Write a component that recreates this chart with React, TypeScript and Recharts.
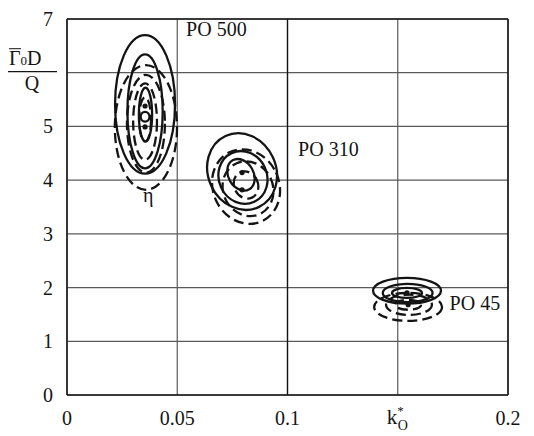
import { ScatterChart, Scatter, XAxis, YAxis, CartesianGrid, ReferenceLine } from "recharts";

// axes
const xTicks = [0, 0.05, 0.1, 0.15, 0.2];
const xTickLabels = ["0", "0.05", "0.1", "", "0.2"];
const yTicks = [0, 1, 2, 3, 4, 5, 6, 7];
const yTickLabels = ["0", "1", "2", "3", "4", "5", "", "7"];

// contours: centre (x, y), half-widths (rx, ry) in data units, tilt in degrees
const solidContours = [
  // PO 500
  { x: 0.0354, y: 5.41, rx: 0.0136, ry: 1.29, rot: 0 },
  { x: 0.0354, y: 5.28, rx: 0.008, ry: 1.06, rot: 0 },
  { x: 0.0356, y: 5.22, rx: 0.003, ry: 0.5, rot: 0 },
  { x: 0.0354, y: 5.18, rx: 0.002, ry: 0.09, rot: 0 },
  // PO 310
  { x: 0.0794, y: 4.16, rx: 0.0154, ry: 0.73, rot: -25 },
  { x: 0.0798, y: 4.05, rx: 0.0109, ry: 0.5, rot: -25 },
  { x: 0.0789, y: 4.1, rx: 0.0057, ry: 0.31, rot: -30 },
  // PO 45
  { x: 0.1542, y: 1.94, rx: 0.0154, ry: 0.24, rot: 0 },
  { x: 0.1545, y: 1.9, rx: 0.0113, ry: 0.17, rot: 0 },
  { x: 0.1542, y: 1.9, rx: 0.0068, ry: 0.093, rot: 0 },
];

const dashedContours = [
  // PO 500
  { x: 0.0358, y: 4.98, rx: 0.0141, ry: 1.16, rot: 0 },
  { x: 0.0358, y: 5.05, rx: 0.0086, ry: 0.91, rot: 0 },
  { x: 0.0354, y: 5.09, rx: 0.0054, ry: 0.71, rot: 0 },
  { x: 0.0354, y: 5.13, rx: 0.0027, ry: 0.41, rot: 0 },
  // PO 310
  { x: 0.0812, y: 3.88, rx: 0.015, ry: 0.71, rot: -25 },
  { x: 0.0821, y: 3.84, rx: 0.0113, ry: 0.52, rot: -25 },
  { x: 0.0812, y: 3.91, rx: 0.0054, ry: 0.26, rot: -25 },
  // PO 45
  { x: 0.1547, y: 1.64, rx: 0.0154, ry: 0.26, rot: 0 },
  { x: 0.1551, y: 1.68, rx: 0.0104, ry: 0.19, rot: 0 },
  { x: 0.1547, y: 1.68, rx: 0.0059, ry: 0.093, rot: 0 },
];

const centres = [
  { x: 0.0354, y: 5.38 },
  { x: 0.0354, y: 4.99 },
  { x: 0.0794, y: 4.14 },
  { x: 0.0794, y: 3.82 },
  { x: 0.1542, y: 1.9 },
  { x: 0.1547, y: 1.68 },
];

const labels = [
  { x: 0.054, y: 6.68, text: "PO 500" },
  { x: 0.1048, y: 4.45, text: "PO 310" },
  { x: 0.1735, y: 1.58, text: "PO 45" },
  { x: 0.0345, y: 3.6, text: "η" },
];

const W = 534;
const H = 436;
const MARGIN = { top: 19, right: 26, bottom: 0, left: 0 };
const Y_AXIS_W = 67;
const X_AXIS_H = 41;
const X_MAX = 0.2;
const Y_MAX = 7;
const pxPerX = (W - MARGIN.left - MARGIN.right - Y_AXIS_W) / X_MAX;
const pxPerY = (H - MARGIN.top - MARGIN.bottom - X_AXIS_H) / Y_MAX;

const FONT = "'Liberation Serif', 'Times New Roman', 'DejaVu Serif', serif";
const INK = "#141414";
const txt = { fontFamily: FONT, fill: INK };

function contourShape(dashed: boolean) {
  return (props: any) => {
    const { cx, cy, payload } = props;
    return (
      <ellipse
        cx={cx}
        cy={cy}
        rx={payload.rx * pxPerX}
        ry={payload.ry * pxPerY}
        transform={`rotate(${payload.rot} ${cx} ${cy})`}
        fill="none"
        stroke={INK}
        strokeWidth={2.3}
        strokeDasharray={dashed ? "10 5" : undefined}
      />
    );
  };
}

function XTick(props: any) {
  const { x, y, payload, index } = props;
  if (payload.value === 0.15) {
    return (
      <text x={x - 11} y={y + 21} style={{ ...txt, fontSize: 21 }}>
        k
        <tspan style={{ fontSize: 13 }} dy={-9}>*</tspan>
        <tspan style={{ fontSize: 14 }} dx={-6} dy={15}>O</tspan>
      </text>
    );
  }
  return (
    <text x={x} y={y + 22} textAnchor="middle" style={{ ...txt, fontSize: 20 }}>
      {xTickLabels[index]}
    </text>
  );
}

function YTick(props: any) {
  const { x, y, payload, index } = props;
  if (payload.value === 6) {
    return (
      <g>
        <text x={x - 50} y={y - 8} style={{ ...txt, fontSize: 20 }}>
          Γ<tspan style={{ fontSize: 13 }}>0</tspan>D
        </text>
        <line x1={x - 50} x2={x - 38} y1={y - 24} y2={y - 24} stroke={INK} strokeWidth={1} />
        <line x1={x - 51} x2={x - 2} y1={y - 1} y2={y - 1} stroke={INK} strokeWidth={1.2} />
        <text x={x - 27} y={y + 17} textAnchor="middle" style={{ ...txt, fontSize: 20 }}>Q</text>
      </g>
    );
  }
  return (
    <text x={x - 6} y={y + 7} textAnchor="end" style={{ ...txt, fontSize: 20 }}>
      {yTickLabels[index]}
    </text>
  );
}

function LabelShape(props: any) {
  const { cx, cy, payload } = props;
  return (
    <text x={cx} y={cy} style={{ ...txt, fontSize: 20 }}>
      {payload.text}
    </text>
  );
}

function CentreShape(props: any) {
  const { cx, cy } = props;
  return <circle cx={cx} cy={cy} r={2.6} fill={INK} />;
}

export default function App() {
  return (
    <div style={{ position: "absolute", left: 0, top: 0, background: "#fff", fontFamily: FONT }}>
      <ScatterChart width={W} height={H} margin={MARGIN}>
        <CartesianGrid stroke="#5a5a5a" strokeWidth={1.2} />
        <XAxis
          type="number"
          dataKey="x"
          domain={[0, X_MAX]}
          ticks={xTicks}
          height={X_AXIS_H}
          tickLine={false}
          axisLine={{ stroke: INK, strokeWidth: 1.5 }}
          tick={<XTick />}
          interval={0}
        />
        <YAxis
          type="number"
          dataKey="y"
          domain={[0, Y_MAX]}
          ticks={yTicks}
          width={Y_AXIS_W}
          tickLine={false}
          axisLine={{ stroke: INK, strokeWidth: 1.5 }}
          tick={<YTick />}
          interval={0}
        />
        <ReferenceLine x={0.1} stroke={INK} strokeWidth={1.3} />
        <ReferenceLine x={X_MAX} stroke={INK} strokeWidth={1.5} />
        <ReferenceLine y={Y_MAX} stroke={INK} strokeWidth={1.5} />
        <Scatter data={solidContours} shape={contourShape(false)} isAnimationActive={false} />
        <Scatter data={dashedContours} shape={contourShape(true)} isAnimationActive={false} />
        <Scatter data={centres} shape={CentreShape} isAnimationActive={false} />
        <Scatter data={labels} shape={LabelShape} isAnimationActive={false} />
      </ScatterChart>
    </div>
  );
}
